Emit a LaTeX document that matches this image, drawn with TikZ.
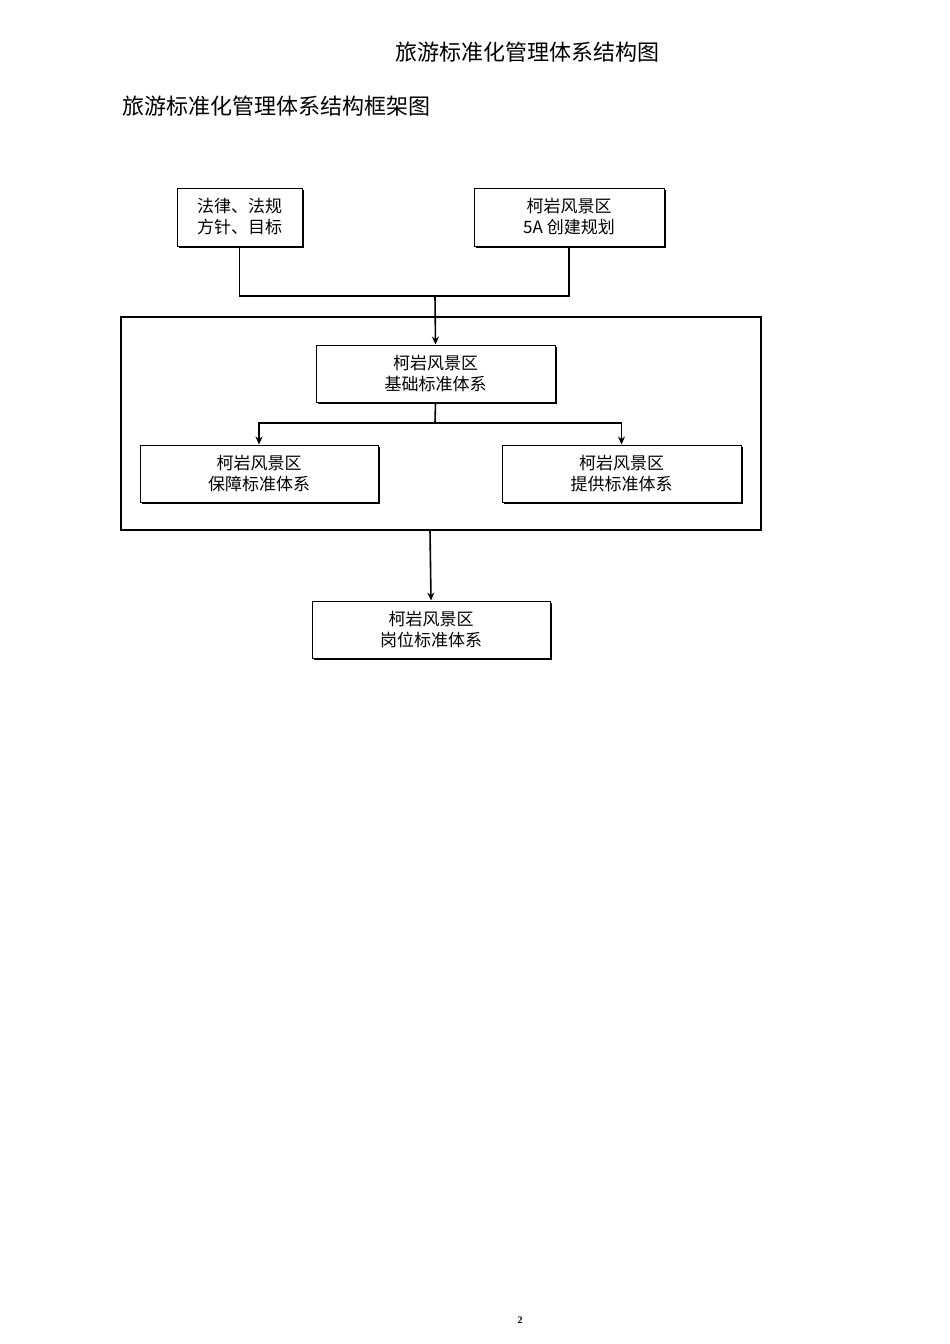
\documentclass[tikz,border=0pt]{standalone}
\usepackage{fontspec}
\setmainfont{Liberation Serif}
\newfontfamily\cjk{Noto Sans CJK SC}
\usetikzlibrary{arrows.meta,shadows}
\begin{document}
\begin{tikzpicture}[x=1pt,y=-1pt,
  bx/.style={draw,line width=1pt,fill=white,align=center,inner sep=0pt,
    font=\fontsize{17}{21}\selectfont\cjk,
    drop shadow={shadow xshift=1.5pt,shadow yshift=-1.5pt,fill=black,opacity=1}},
  ln/.style={line width=1.6pt},
  ar/.style={ln,-{Stealth[length=8pt,width=7pt]}}]
\useasboundingbox (0,0) rectangle (950,1344);
\node[anchor=center,font=\fontsize{22}{26}\selectfont\cjk] (t) at (527,52) {旅游标准化管理体系结构图};
\node[anchor=west,font=\fontsize{22}{26}\selectfont\cjk] (st) at (119,106) {旅游标准化管理体系结构框架图};
\node[bx,minimum width=125pt,minimum height=58pt] (a) at (239.5,217) {法律、法规\\方针、目标};
\node[bx,minimum width=190pt,minimum height=58pt] (b) at (569,217) {柯岩风景区\\5A 创建规划};
\draw[line width=1.4pt] (121,317) rectangle (761,530);
\coordinate (fr) at (430,530);
\node[bx,minimum width=239pt,minimum height=57pt] (c) at (435.5,373.5) {柯岩风景区\\基础标准体系};
\node[bx,minimum width=238pt,minimum height=57pt] (d) at (259,473.5) {柯岩风景区\\保障标准体系};
\node[bx,minimum width=239pt,minimum height=57pt] (e) at (621.5,473.5) {柯岩风景区\\提供标准体系};
\node[bx,minimum width=238pt,minimum height=57pt] (f) at (431,629.5) {柯岩风景区\\岗位标准体系};
\coordinate (j) at (435,296);
\draw[ln] (a.south) |- (j) -| (b.south);
\draw[ar] (j) -- (c.north);
\coordinate (k) at (435,423);
\draw[ln] (c.south) -- (k);
\draw[ar] (k) -| (d.north);
\draw[ar] (k) -| (e.north);
\draw[ar] (fr) -- (f.north);
\node[font=\bfseries\fontsize{10}{12}\selectfont] (p) at (520,1320) {2};
\end{tikzpicture}
\end{document}
